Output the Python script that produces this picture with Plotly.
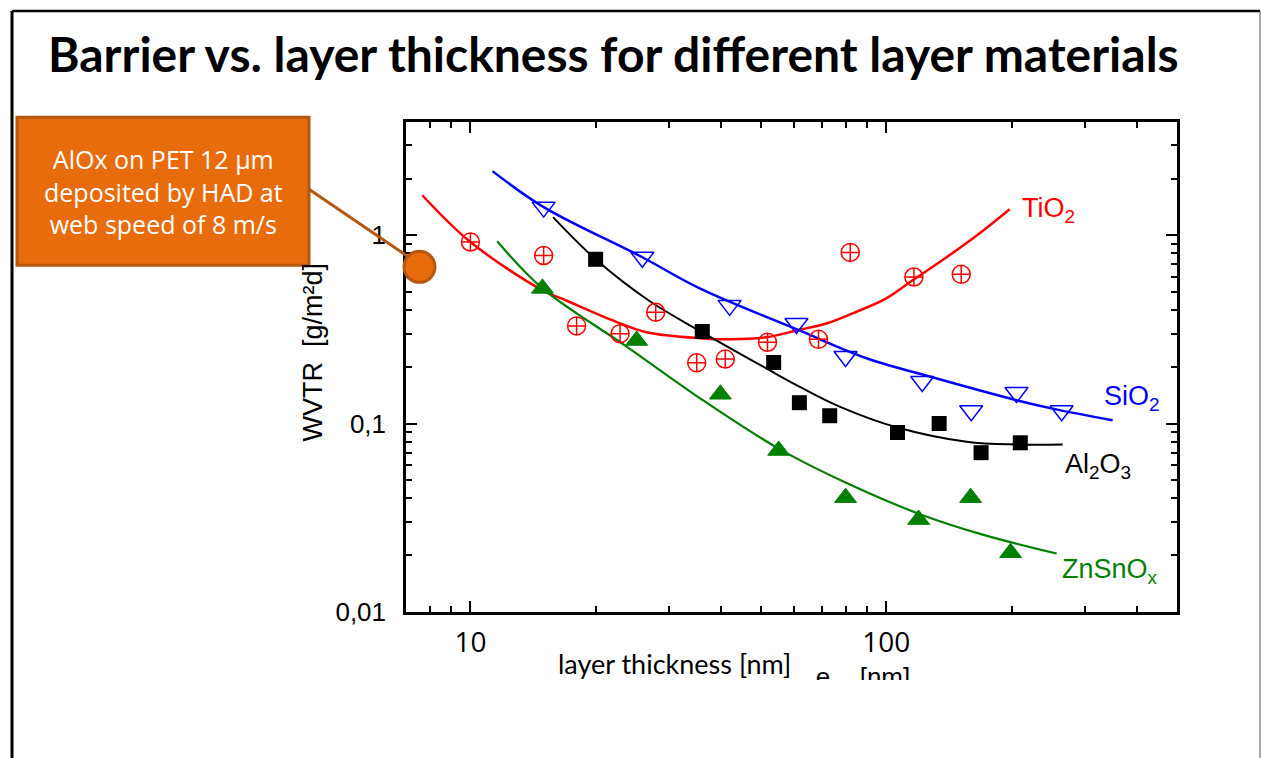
import numpy as np
import plotly.graph_objects as go

# The capture squeezes the page height by 758/774, so the figure is made 774 px tall and
# every paper position is expressed against the 758-px target picture.
W, H_TARGET, H = 1262, 758, 774

# ---------------- data ----------------
tio2_x = [10, 15, 18, 22.9, 27.9, 35, 41, 51.8, 68.7, 81.9, 116.5, 151.4]
tio2_y = [0.92, 0.78, 0.33, 0.30, 0.39, 0.21, 0.22, 0.27, 0.28, 0.81, 0.60, 0.62]
tio2_fit_x = [7.66, 10, 14.9, 17.0, 22.0, 26.5, 36.1, 42.0, 51.5, 60.8, 71.8, 83.0, 100, 115.7, 139.6, 167.7, 198]
tio2_fit_y = [1.63, 0.92, 0.51, 0.45, 0.353, 0.305, 0.283, 0.280, 0.287, 0.312, 0.340, 0.385, 0.462, 0.576, 0.764, 1.025, 1.375]

sio2_x = [15, 25.9, 42, 60.8, 79.8, 122, 160, 205.6, 264]
sio2_y = [1.41, 0.764, 0.424, 0.34, 0.227, 0.167, 0.117, 0.146, 0.117]
sio2_fit_x = [11.3, 15.0, 25.9, 35.6, 61.8, 89.7, 129, 205.6, 251, 350]
sio2_fit_y = [2.19, 1.41, 0.764, 0.522, 0.312, 0.222, 0.176, 0.133, 0.120, 0.104]

al2o3_x = [20.0, 36.1, 53.6, 61.8, 73.1, 106.4, 134, 169, 210]
al2o3_y = [0.745, 0.308, 0.211, 0.129, 0.110, 0.0896, 0.100, 0.070, 0.079]
al2o3_fit_x = [15.8, 20.0, 27.0, 36.1, 51.5, 61.8, 77.2, 106.4, 156, 205.6, 265.5]
al2o3_fit_y = [1.247, 0.745, 0.446, 0.305, 0.196, 0.157, 0.123, 0.0952, 0.080, 0.0773, 0.0773]

znsno_x = [14.9, 25.1, 39.9, 55.1, 79.8, 119.6, 159.5, 199]
znsno_y = [0.522, 0.276, 0.143, 0.0719, 0.0404, 0.0309, 0.0404, 0.0206]
znsno_fit_x = [11.6, 14.9, 23.7, 36.6, 55.1, 79.8, 119.6, 170.5, 256.8]
znsno_fit_y = [0.929, 0.522, 0.257, 0.131, 0.0736, 0.0486, 0.0332, 0.0257, 0.0204]

x_ticks = [10, 100]
x_ticktext = ["10", "100"]
x_minor = [8, 9, 20, 30, 40, 50, 60, 70, 80, 90, 200, 300, 400]
y_ticks = [0.01, 0.1, 1]
y_ticktext = ["0,01", "0,1", "1"]
y_minor = [0.02, 0.03, 0.04, 0.05, 0.06, 0.07, 0.08, 0.09,
           0.2, 0.3, 0.4, 0.5, 0.6, 0.7, 0.8, 0.9, 2, 3, 4]

title_text = "Barrier vs. layer thickness for different layer materials"
callout_text = "AlOx on PET 12 µm<br>deposited by HAD at<br>web speed of 8 m/s"

RED, BLUE, BLACK, GREEN = "#ff0000", "#0000ff", "#000000", "#008000"
ORANGE, BROWN = "#e96c0c", "#b4570f"


def px(x):
    return x / W


def py(y):
    return 1 - y / H_TARGET


fig = go.Figure()

# fit curves
for fx, fy, col, wd in [(tio2_fit_x, tio2_fit_y, RED, 2.5),
                        (sio2_fit_x, sio2_fit_y, BLUE, 2.5),
                        (al2o3_fit_x, al2o3_fit_y, BLACK, 2),
                        (znsno_fit_x, znsno_fit_y, GREEN, 2.2)]:
    fig.add_trace(go.Scatter(x=fx, y=fy, mode="lines", line=dict(color=col, width=wd, shape="spline"),
                             showlegend=False, hoverinfo="skip"))

# measured points
fig.add_trace(go.Scatter(x=tio2_x, y=tio2_y, mode="markers", showlegend=False,
                         marker=dict(symbol="circle-cross-open", size=18, color=RED, line=dict(width=1.5, color=RED))))
fig.add_trace(go.Scatter(x=sio2_x, y=sio2_y, mode="markers", showlegend=False,
                         marker=dict(symbol="triangle-down-open", size=20, color=BLUE, line=dict(width=1.5, color=BLUE))))
fig.add_trace(go.Scatter(x=al2o3_x, y=al2o3_y, mode="markers", showlegend=False,
                         marker=dict(symbol="square", size=15, color=BLACK, line=dict(width=0))))
fig.add_trace(go.Scatter(x=znsno_x, y=znsno_y, mode="markers", showlegend=False,
                         marker=dict(symbol="triangle-up", size=19, color=GREEN, line=dict(width=1, color=GREEN))))

# partially hidden second axis title (clipped by its own invisible subplot)
fig.add_trace(go.Scatter(x=[0.165, 0.607], y=[0.0, 0.0], mode="text", text=["e", "[nm]"],
                         textposition="middle center", cliponaxis=True,
                         textfont=dict(family="Liberation Sans, Arial", size=26, color="black"),
                         xaxis="x2", yaxis="y2", showlegend=False, hoverinfo="skip"))

axis_common = dict(type="log", showline=True, linecolor="black", linewidth=2.5, mirror="ticks",
                   ticks="inside", ticklen=11, tickwidth=2, tickcolor="black",
                   showgrid=False, zeroline=False)

fig.update_layout(
    width=W, height=H, margin=dict(l=0, r=0, t=0, b=0),
    paper_bgcolor="white", plot_bgcolor="white",
    xaxis=dict(axis_common, domain=[px(406), px(1177)], range=[np.log10(7), np.log10(500)],
               tickmode="array", tickvals=x_ticks, ticktext=x_ticktext,
               tickfont=dict(family="Open Sans", size=28, color="black"), ticklabelstandoff=4,
               minor=dict(tickmode="array", tickvals=x_minor, ticks="inside", ticklen=6,
                          tickwidth=2, tickcolor="black", showgrid=False)),
    yaxis=dict(axis_common, domain=[py(611), py(121.7)], range=[-2, np.log10(4)],
               tickmode="array", tickvals=y_ticks, ticktext=y_ticktext,
               tickfont=dict(family="Liberation Sans, Arial", size=26, color="black"), ticklabelstandoff=12,
               minor=dict(tickmode="array", tickvals=y_minor, ticks="inside", ticklen=6,
                          tickwidth=2, tickcolor="black", showgrid=False)),
    xaxis2=dict(domain=[px(800), px(940)], range=[0, 1], visible=False, anchor="y2"),
    yaxis2=dict(domain=[py(679), py(650)], range=[0, 1], visible=False, anchor="x2"),
)

# slide frame
fig.add_shape(type="line", xref="paper", yref="paper", x0=px(12), x1=px(12), y0=py(11), y1=py(780),
              line=dict(color="black", width=3), layer="above")
fig.add_shape(type="line", xref="paper", yref="paper", x0=px(12), x1=px(1260), y0=py(11), y1=py(11),
              line=dict(color="black", width=2.5), layer="above")
fig.add_shape(type="line", xref="paper", yref="paper", x0=px(1260), x1=px(1260), y0=py(11), y1=py(780),
              line=dict(color="#555555", width=1), layer="above")

# callout
fig.add_shape(type="line", xref="paper", yref="paper", x0=px(309), y0=py(189), x1=px(415), y1=py(261),
              line=dict(color=BROWN, width=3), layer="above")
fig.add_shape(type="rect", xref="paper", yref="paper", x0=px(17), y0=py(117), x1=px(309), y1=py(265),
              fillcolor=ORANGE, line=dict(color=BROWN, width=3), layer="above")
fig.add_shape(type="circle", xref="paper", yref="paper", x0=px(404), y0=py(251), x1=px(435), y1=py(282),
              fillcolor=ORANGE, line=dict(color=BROWN, width=3), layer="above")

annotations = [
    dict(text="<b>" + title_text + "</b>", x=px(46), y=py(53), xanchor="left", yanchor="middle",
         font=dict(family="Lato", size=48, color="black")),
    dict(text=callout_text, x=px(163), y=py(191), xanchor="center", yanchor="middle",
         font=dict(family="Open Sans", size=25, color="white")),
    dict(text="WVTR  [g/m²d]", x=px(313), y=py(352), textangle=-90, xanchor="center", yanchor="middle",
         font=dict(family="Liberation Sans, Arial", size=27, color="black")),
    dict(text="layer thickness [nm]", x=px(674), y=py(663), xanchor="center", yanchor="middle",
         font=dict(family="Lato", size=27, color="black")),
    dict(text="TiO<sub>2</sub>", x=px(1020), y=py(210), xanchor="left", yanchor="middle",
         font=dict(family="Liberation Sans, Arial", size=27, color=RED)),
    dict(text="SiO<sub>2</sub>", x=px(1102), y=py(397), xanchor="left", yanchor="middle",
         font=dict(family="Liberation Sans, Arial", size=27, color=BLUE)),
    dict(text="Al<sub>2</sub>O<sub>3</sub>", x=px(1063), y=py(465), xanchor="left", yanchor="middle",
         font=dict(family="Liberation Sans, Arial", size=27, color=BLACK)),
    dict(text="ZnSnO<sub>x</sub>", x=px(1060), y=py(570), xanchor="left", yanchor="middle",
         font=dict(family="Liberation Sans, Arial", size=27, color=GREEN)),
]
for a in annotations:
    a.update(xref="paper", yref="paper", showarrow=False)
    fig.add_annotation(**a)

page_css = ("var d=document.documentElement,b=document.body;"
            "d.style.margin='0';d.style.padding='0';d.style.overflow='hidden';"
            "b.style.margin='0';b.style.padding='0';b.style.overflow='hidden';")

fig.write_html("out.html", config={"displayModeBar": False}, post_script=page_css)
